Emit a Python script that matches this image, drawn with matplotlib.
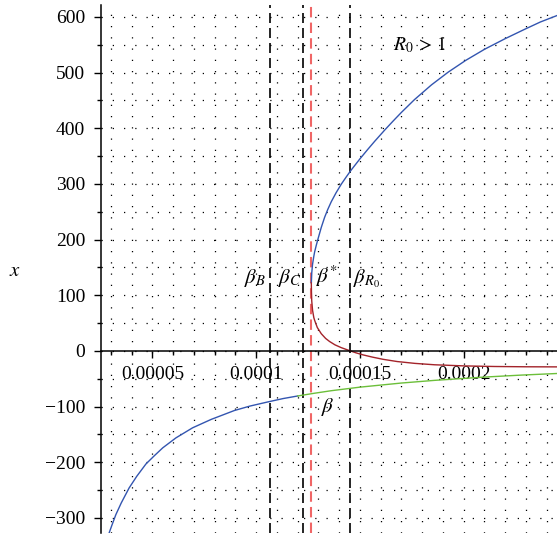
#!/usr/bin/env python3
# -*- coding=utf-8 -*-

import matplotlib
matplotlib.use("Agg")
import matplotlib.pyplot as plt
import numpy as np
from matplotlib.ticker import FixedLocator, FixedFormatter

plt.rcParams["font.family"] = ["Liberation Serif", "DejaVu Serif"]
plt.rcParams["mathtext.fontset"] = "stix"
plt.rcParams["font.size"] = 14

SCALE = 1e-6  # beta values below are in units of 1e-6

# upper branch (blue) above the fold
UP_BETA = [126.6, 126.8, 127.2, 127.8, 128.2, 129.0, 129.8, 131.4, 133.0, 134.5, 136.2,
           138.5, 141.1, 143.5, 145.6, 150.0, 154.0, 157.1, 162.0, 166.0, 170.0, 176.3,
           184.5, 192.6, 201.0, 210.1, 220.0, 229.5, 237.0, 246.0]
UP_X = [122, 140, 156, 170, 178, 190, 201, 222, 240, 254, 268, 284, 300, 313, 324, 345,
        363, 376.5, 397, 413, 428.5, 451.5, 478, 501, 522, 542, 561, 578, 591, 604]

# lower (red) branch from the fold
MID_BETA = [126.6, 126.65, 126.8, 127.2, 127.8, 128.2, 129.5, 131.4, 133.5, 135.4, 138.0,
            141.0, 145.1, 148.0, 151.5, 156.0, 161.2, 168.0, 176.5, 186.0, 200.0, 215.0,
            230.0, 246.0]
MID_X = [122, 106, 90, 73, 60, 55, 42, 31, 22.5, 17, 11, 6, 0.5, -3.2, -7, -11, -15, -19,
         -22.3, -24.8, -26.8, -27.9, -28.4, -28.6]

# negative branch: blue part, then green part
NEG_BETA = [28.5, 29.1, 30.5, 32.4, 35.0, 38.8, 42.5, 46.9, 51.0, 55.0, 61.4, 69.4, 78.3,
            89.5, 97.0, 105.7, 113.0, 120.1]
NEG_X = [-335, -327.5, -313, -294, -273, -246, -225, -203, -188, -174, -156, -138, -123,
         -107, -99, -91.5, -85.5, -80.8]
GREEN_BETA = [120.1, 128.0, 136.2, 150.0, 170.0, 186.0, 210.0, 228.0, 246.0]
GREEN_X = [-80.8, -76, -71.4, -65, -57.6, -52.8, -46.9, -43.3, -40.3]

# threshold values of beta
BETA_B = 0.0001068
BETA_C = 0.0001227
BETA_STAR = 0.0001266
BETA_R0 = 0.0001454

XTICKS = [0.00005, 0.0001, 0.00015, 0.0002]
XTICK_LABELS = ["0.00005", "0.0001", "0.00015", "0.0002"]
YTICKS = [-300, -200, -100, 0, 100, 200, 300, 400, 500, 600]

BLUE = "#3355b0"

fig = plt.figure(figsize=(5.57, 5.40), dpi=100)
ax = fig.add_axes([100.5 / 557, 7 / 540, 456.5 / 557, 528 / 540])

for b in (BETA_B, BETA_C, BETA_R0):
    ax.axvline(b, color="black", lw=1.2, ls=(0, (6, 3)))
ax.axvline(BETA_STAR, color="#f06666", lw=1.5, ls=(0, (5, 2.5)))

ax.plot(np.array(UP_BETA) * SCALE, UP_X, color=BLUE, lw=1.0)
ax.plot(np.array(MID_BETA) * SCALE, MID_X, color="#a3232a", lw=1.0)
ax.plot(np.array(NEG_BETA) * SCALE, NEG_X, color=BLUE, lw=1.0)
ax.plot(np.array(GREEN_BETA) * SCALE, GREEN_X, color="#6cbf3a", lw=1.0)

ax.set_xlim(0.000025, 0.000245)
ax.set_ylim(-327, 621.5)

# maple style axes: x axis through zero
ax.spines["bottom"].set_position(("data", 0))
ax.spines["top"].set_visible(False)
ax.spines["right"].set_visible(False)
for s in ("bottom", "left"):
    ax.spines[s].set_linewidth(1.1)

ax.xaxis.set_major_locator(FixedLocator(XTICKS))
ax.xaxis.set_major_formatter(FixedFormatter(XTICK_LABELS))
ax.xaxis.set_minor_locator(FixedLocator([i * 1e-5 for i in range(3, 25)]))
ax.yaxis.set_major_locator(FixedLocator(YTICKS))
ax.yaxis.set_minor_locator(FixedLocator([v + 50 for v in YTICKS]))
ax.tick_params(which="major", direction="out", length=5, width=1, pad=6, labelsize=14)
ax.tick_params(which="minor", direction="out", length=3, width=1)

ax.grid(which="both", color="black", lw=0.9, ls=(0, (1, 8)))
ax.set_axisbelow(True)

# labels on the plot
ax.text(0.0000942, 122, r"$\beta_B$", fontsize=15)
ax.text(0.0001106, 122, r"$\beta_C$", fontsize=15)
ax.text(0.0001289, 122, r"$\beta^{*}$", fontsize=15)
ax.text(0.0001467, 122, r"$\beta_{R_0}$", fontsize=15)
ax.text(0.0001660, 541, r"$R_0\,>\,1$", fontsize=14)
ax.text(0.0001347, -100, r"$\beta$", fontsize=15, ha="center", va="center")
fig.text(15 / 557, 1 - 272 / 540, r"$x$", fontsize=15, ha="center", va="center")

fig.savefig("out.png", dpi=100)
